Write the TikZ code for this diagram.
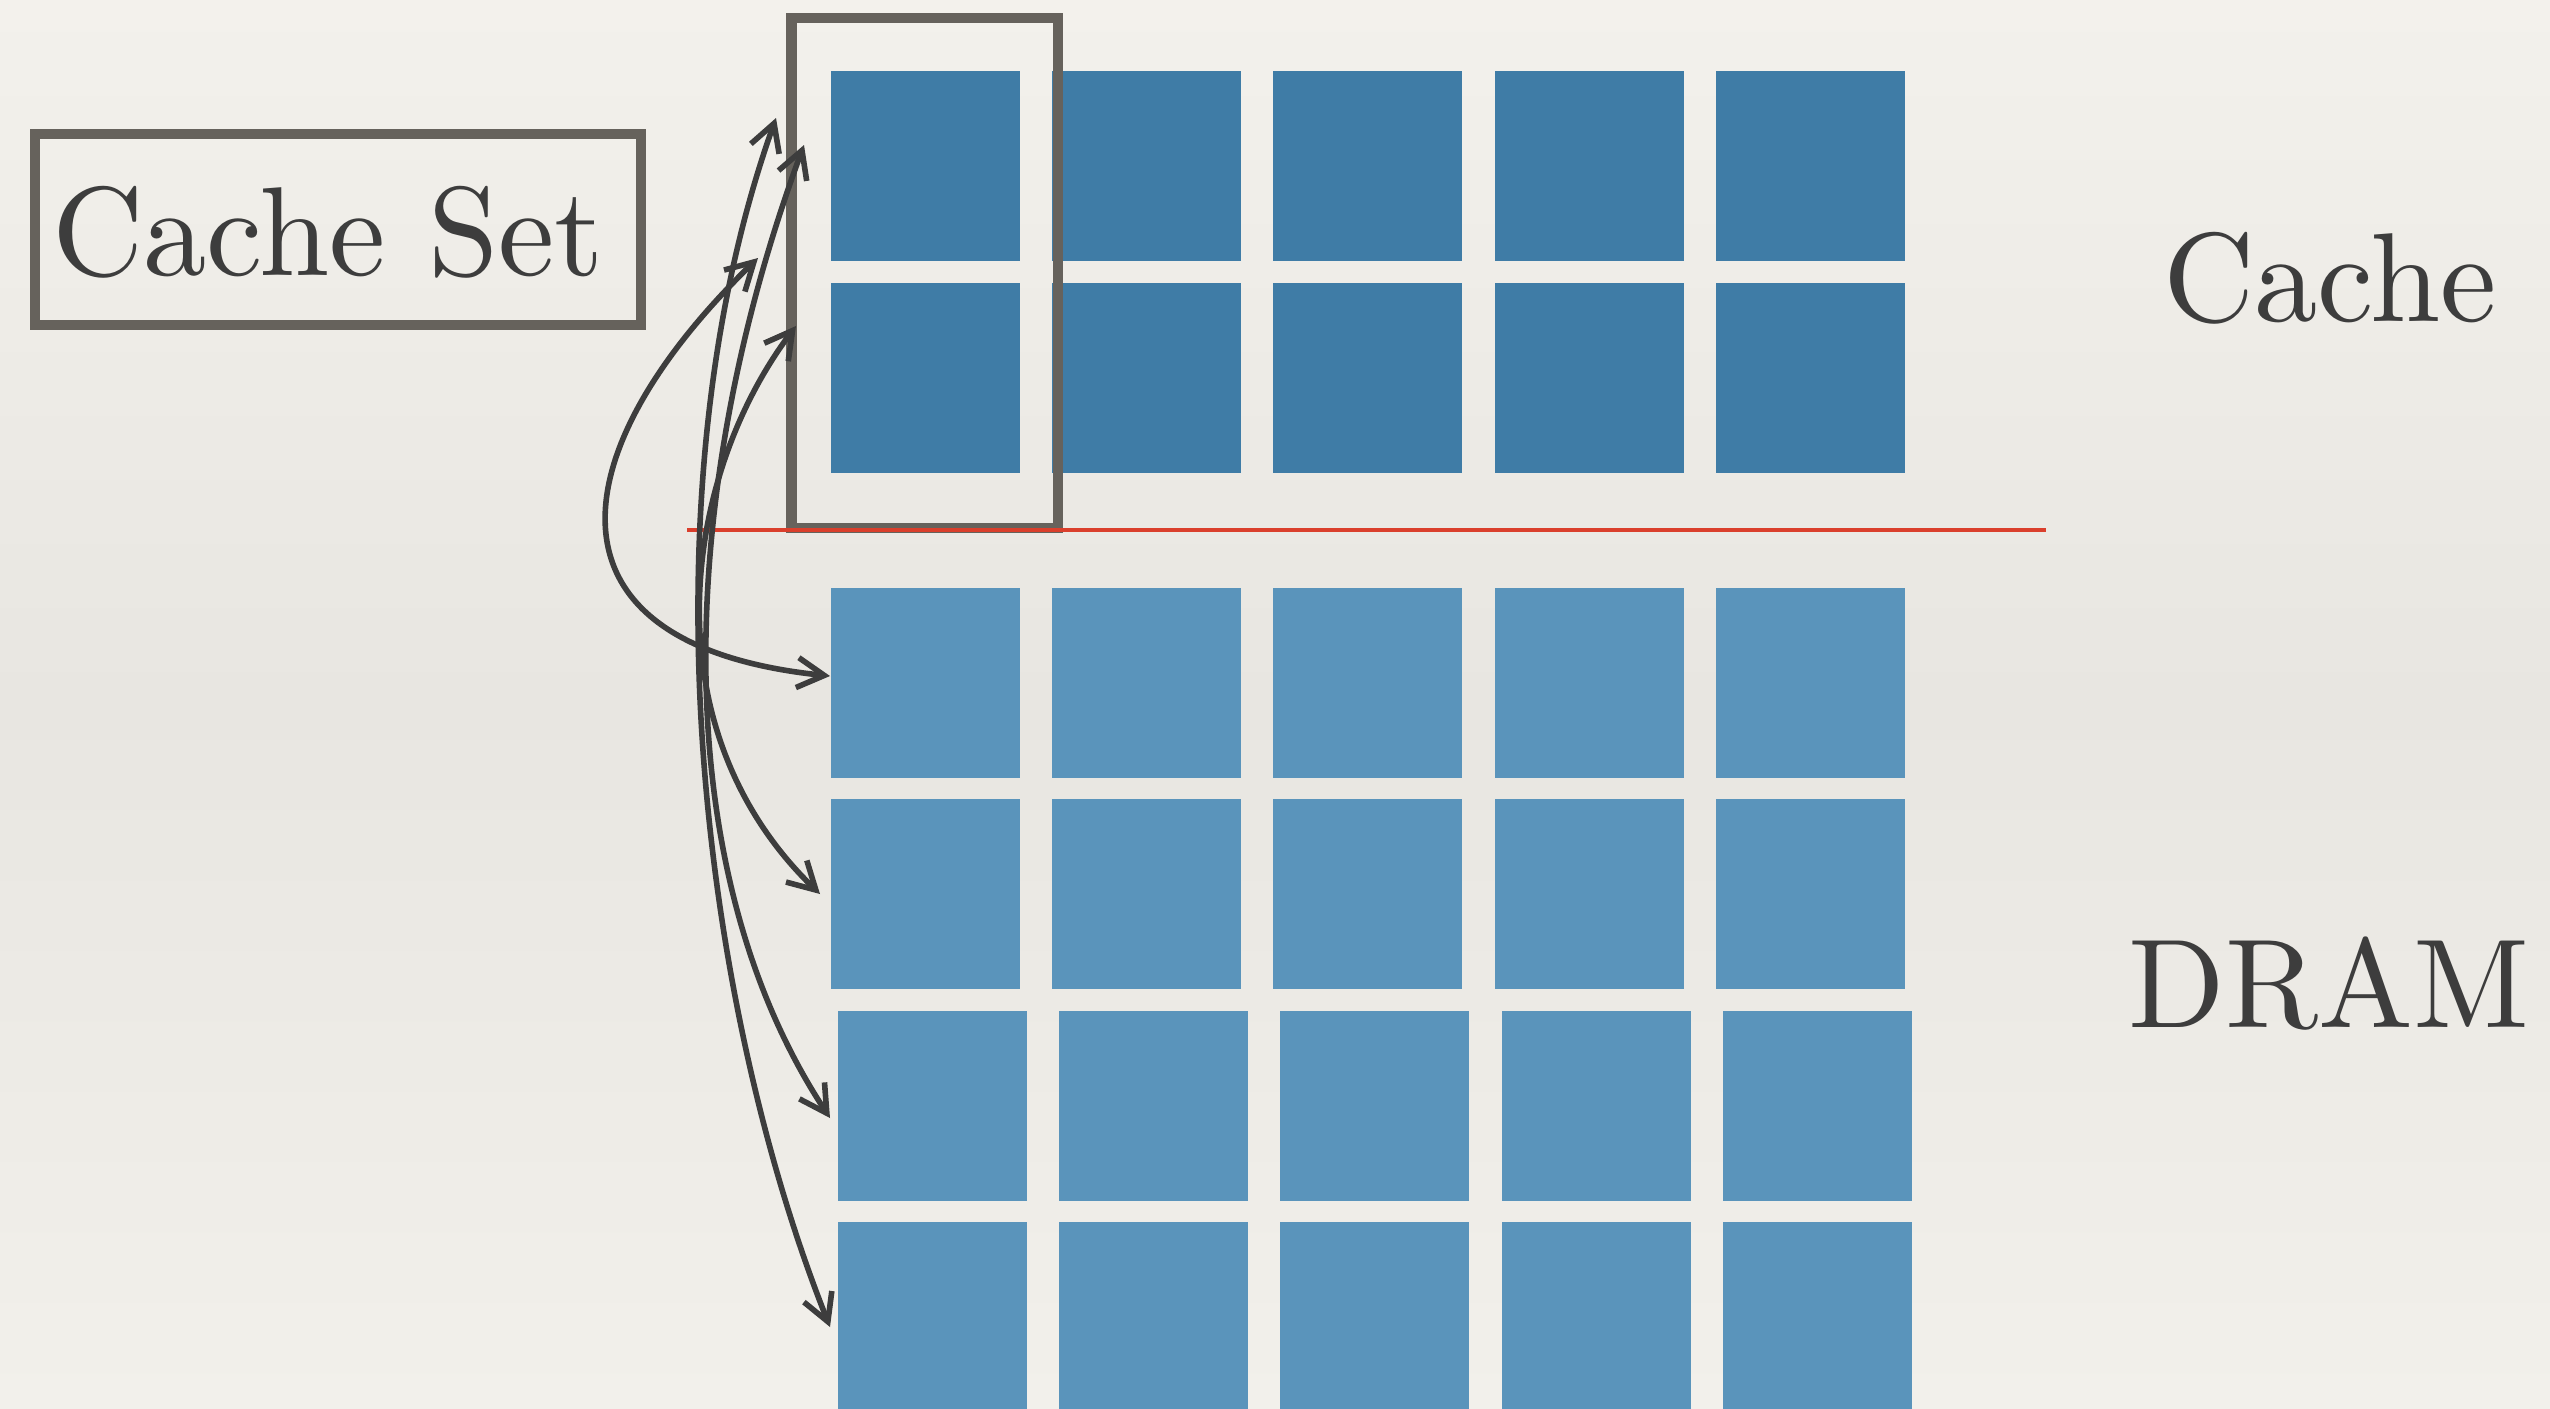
\documentclass[tikz,border=0pt]{standalone}
\usepackage{fontspec}
\newfontfamily\slidefont{lmroman10-regular.otf}
\usetikzlibrary{arrows.meta}
\definecolor{bgtop}{HTML}{F3F1EC}
\definecolor{bgmid}{HTML}{E8E6E1}
\definecolor{bgbot}{HTML}{F2F0EB}
\definecolor{cacheblue}{HTML}{3F7CA6}
\definecolor{dramblue}{HTML}{5A94BB}
\definecolor{framegray}{HTML}{66625C}
\definecolor{inkgray}{HTML}{3D3D3D}
\definecolor{redline}{HTML}{DA3F2C}
\begin{document}
\begin{tikzpicture}[x=0.01cm,y=-0.01cm,
  block/.style={inner sep=0pt, outer sep=0pt, minimum width=1.89cm, minimum height=1.90cm, anchor=north west},
  cblock/.style={block, fill=cacheblue},
  dblock/.style={block, fill=dramblue},
  setframe/.style={draw=framegray, line width=0.105cm, inner sep=0pt, outer sep=0pt},
  maplink/.style={draw=inkgray, line width=0.056cm, line cap=round, line join=round,
    {Straight Barb[length=2.7mm,width=3.0mm]}-{Straight Barb[length=2.7mm,width=3.0mm]}},
  bigtext/.style={text=inkgray, font=\slidefont\fontsize{36}{40}\selectfont, inner sep=0pt, anchor=base}]
\useasboundingbox (0,0) rectangle (2550,1408);
\clip (0,0) rectangle (2550,1408);
\shade[top color=bgtop, bottom color=bgbot, middle color=bgmid] (0,0) rectangle (2550,1408);
% blocks
\foreach \c/\x in {1/831,2/1052,3/1273,4/1495,5/1716} {
  \node[cblock] (c-1-\c) at (\x,71) {};
  \node[cblock] (c-2-\c) at (\x,283) {};
  \node[dblock] (d-1-\c) at (\x,588) {};
  \node[dblock] (d-2-\c) at (\x,799) {};
  \node[dblock] (d-3-\c) at (\x+7,1011) {};
  \node[dblock] (d-4-\c) at (\x+7,1222) {};
}
% set frame
\node[setframe, minimum width=2.665cm, minimum height=5.095cm, anchor=north west] (setbox) at (791.5,18) {};
% separator
\draw[redline, line width=0.034cm] (687,530) -- (2046,530);
% Cache Set label
\node[setframe, minimum width=6.06cm, minimum height=1.91cm] (csbox) at (338,229.5) {};
\node[bigtext] (cstext) at (328,275) {Cache Set};
% right labels
\node[bigtext] (cachelbl) at (2330,321) {Cache};
\node[bigtext] (dramlbl) at (2329,1027) {DRAM};
% arrow ends
\coordinate (ca1) at (776,118);
\coordinate (ca2) at (804,145);
\coordinate (ca3) at (758,258);
\coordinate (ca4) at (796,326);
\coordinate (da1) at (830,676);
\coordinate (da2) at (820,894);
\coordinate (da3) at (830,1118);
\coordinate (da4) at (830,1327);
\draw[maplink] (ca1) .. controls (640,500) and (700,1000) .. (da4);
\draw[maplink] (ca2) .. controls (680,480) and (660,860) .. (da3);
\draw[maplink] (ca3) .. controls (560,450) and (530,645) .. (da1);
\draw[maplink] (ca4) .. controls (680,480) and (650,730) .. (da2);
\end{tikzpicture}
\end{document}
